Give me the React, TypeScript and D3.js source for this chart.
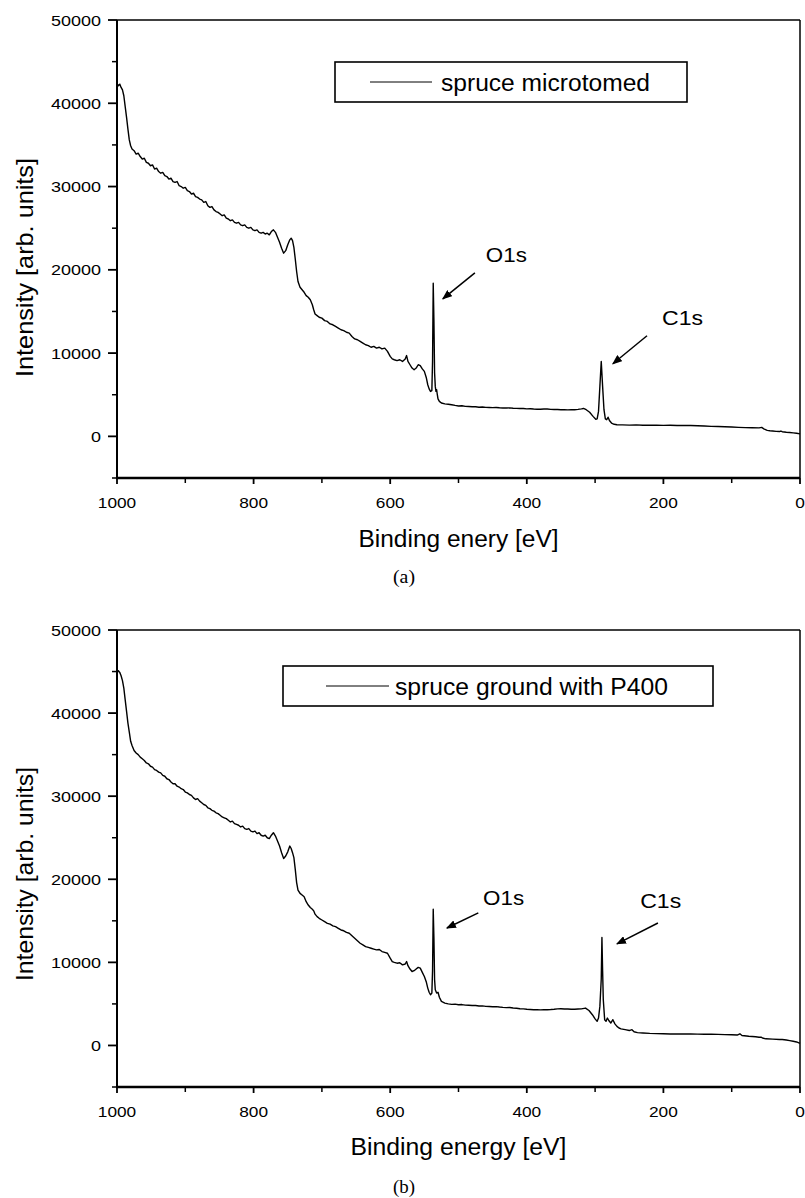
import * as d3 from 'd3'

// XPS survey spectra: [binding energy eV, intensity]
const spectrumA: [number, number][] = [
    [1000, 42400], [998, 42100], [996, 42300], [994, 41900], [992, 41600], [990, 40900], [988, 39600], [986, 38300],
    [984, 36900], [982, 35600], [980, 34900], [978, 34500], [975, 34300], [972, 33900], [969, 34000], [966, 33600],
    [963, 33300], [960, 33400], [957, 32900], [954, 32800], [951, 32500], [948, 32600], [945, 32100], [942, 32200],
    [939, 31800], [936, 31600], [933, 31700], [930, 31300], [927, 31200], [924, 30900], [921, 31000], [918, 30600],
    [915, 30500], [912, 30600], [909, 30100], [906, 30000], [903, 29800], [900, 29900], [897, 29500], [894, 29400],
    [891, 29100], [888, 29200], [885, 28800], [882, 28700], [879, 28500], [876, 28400], [873, 28100], [870, 28200],
    [867, 27700], [864, 27500], [861, 27600], [858, 27200], [855, 27000], [852, 26900], [849, 26700], [846, 26500],
    [843, 26600], [840, 26200], [837, 26100], [834, 25900], [831, 26000], [828, 25700], [825, 25600], [822, 25700],
    [819, 25400], [816, 25300], [813, 25400], [810, 25100], [807, 25000], [804, 25100], [801, 24800], [798, 24700],
    [795, 24800], [792, 24500], [789, 24400], [786, 24500], [783, 24300], [780, 24400], [777, 24200], [774, 24600],
    [771, 24800], [768, 24500], [765, 23900], [762, 23300], [759, 22600], [756, 22000], [753, 22300], [750, 23000],
    [747, 23600], [745, 23800], [743, 23500], [741, 22700], [739, 21300], [737, 19800], [735, 18600], [732, 17900],
    [729, 17600], [726, 17300], [723, 16900], [720, 16700], [717, 16400], [714, 15800], [712, 15200], [710, 14700],
    [707, 14500], [704, 14300], [700, 14200], [696, 13900], [692, 13800], [688, 13500], [684, 13400], [680, 13200],
    [676, 13000], [672, 12800], [668, 12700], [664, 12500], [660, 12400], [656, 12000], [652, 11700], [648, 11600],
    [644, 11400], [640, 11200], [636, 11000], [632, 10900], [628, 10700], [624, 10800], [620, 10600], [616, 10700],
    [612, 10500], [608, 10600], [604, 10200], [600, 9600], [597, 9300], [594, 9200], [590, 9100], [586, 9200],
    [582, 9000], [578, 9300], [576, 9700], [574, 9000], [571, 8600], [568, 8200], [565, 8000], [562, 8200],
    [559, 8600], [556, 8500], [553, 8100], [550, 7800], [547, 7000], [545, 6200], [543, 5700], [541, 5400],
    [539, 5500], [538, 9000], [537, 18400], [536, 14000], [535, 7600], [534, 6000], [533, 5400], [532, 5600],
    [531, 5000], [530, 4500], [528, 4200], [525, 4000], [520, 3900], [515, 3850], [510, 3800], [505, 3720],
    [500, 3650], [495, 3680], [490, 3600], [485, 3580], [480, 3550], [475, 3560], [470, 3500], [465, 3520],
    [460, 3480], [455, 3470], [450, 3450], [445, 3460], [440, 3430], [435, 3410], [430, 3400], [425, 3420],
    [420, 3380], [415, 3360], [410, 3350], [405, 3340], [400, 3300], [395, 3320], [390, 3280], [385, 3260],
    [380, 3250], [375, 3290], [370, 3280], [365, 3240], [360, 3220], [355, 3230], [350, 3200], [345, 3210],
    [340, 3180], [335, 3190], [330, 3200], [325, 3240], [320, 3300], [317, 3350], [313, 3200], [308, 2900],
    [303, 2400], [299, 2050], [297, 2100], [295, 3000], [293, 6000], [291, 9000], [289, 6000], [287, 3200],
    [285, 2100], [283, 2000], [281, 2300], [279, 1900], [276, 1600], [272, 1450], [268, 1400], [260, 1380],
    [250, 1350], [240, 1380], [230, 1340], [220, 1350], [210, 1330], [200, 1320], [190, 1330], [180, 1300],
    [170, 1320], [160, 1300], [150, 1280], [140, 1250], [130, 1200], [120, 1180], [110, 1150], [100, 1120],
    [90, 1080], [80, 1050], [70, 1030], [60, 1020], [56, 1080], [53, 900], [48, 720], [44, 680],
    [40, 650], [35, 600], [30, 580], [28, 640], [26, 560], [20, 500], [15, 460], [10, 420],
    [5, 380], [0, 300],
]

const spectrumB: [number, number][] = [
    [1000, 44800], [998, 45100], [996, 44900], [994, 44500], [992, 43900], [990, 43000], [988, 41600], [986, 40200],
    [984, 38800], [982, 37700], [980, 36600], [978, 36100], [975, 35500], [972, 35200], [969, 35000], [966, 34700],
    [963, 34500], [960, 34300], [957, 34000], [954, 33900], [951, 33600], [948, 33500], [945, 33200], [942, 33100],
    [939, 32900], [936, 32800], [933, 32500], [930, 32400], [927, 32100], [924, 32000], [921, 31700], [918, 31500],
    [915, 31500], [912, 31200], [909, 31100], [906, 30900], [903, 30800], [900, 30500], [897, 30400], [894, 30200],
    [891, 30100], [888, 29800], [885, 29600], [882, 29700], [879, 29400], [876, 29200], [873, 29000], [870, 28900],
    [867, 28600], [864, 28500], [861, 28300], [858, 28200], [855, 28000], [852, 27900], [849, 27700], [846, 27500],
    [843, 27400], [840, 27300], [837, 27100], [834, 26900], [831, 27000], [828, 26700], [825, 26600], [822, 26500],
    [819, 26300], [816, 26400], [813, 26100], [810, 26000], [807, 26100], [804, 25800], [801, 25700], [798, 25800],
    [795, 25500], [792, 25600], [789, 25300], [786, 25200], [783, 25300], [780, 25000], [777, 24900], [774, 25300],
    [771, 25600], [768, 25200], [765, 24600], [762, 24000], [759, 23200], [756, 22500], [753, 22800], [750, 23300],
    [747, 24000], [745, 23700], [743, 23200], [741, 22600], [739, 21200], [737, 19600], [735, 18700], [732, 18300],
    [729, 18100], [726, 17900], [723, 17300], [720, 16900], [717, 16600], [714, 16400], [712, 16200], [710, 15800],
    [707, 15500], [704, 15300], [700, 15100], [696, 14900], [692, 14700], [688, 14600], [684, 14400], [680, 14300],
    [676, 14100], [672, 13900], [668, 13800], [664, 13600], [660, 13500], [656, 13200], [652, 12900], [648, 12600],
    [644, 12300], [640, 12100], [636, 11900], [632, 11800], [628, 11700], [624, 11600], [620, 11500], [616, 11550],
    [612, 11300], [608, 11200], [604, 11100], [600, 10500], [597, 10100], [594, 10000], [590, 9900], [586, 9950],
    [582, 9700], [578, 9800], [576, 10100], [574, 9600], [571, 9200], [568, 8900], [565, 9000], [562, 9200],
    [559, 9400], [556, 9300], [553, 8800], [550, 8300], [547, 7600], [545, 6900], [543, 6400], [541, 6100],
    [539, 6300], [538, 9000], [537, 16400], [536, 13000], [535, 7900], [534, 6700], [532, 6300], [530, 6400],
    [528, 5800], [525, 5300], [520, 5100], [515, 5000], [510, 4950], [505, 4980], [500, 4900], [495, 4920],
    [490, 4850], [485, 4830], [480, 4800], [475, 4810], [470, 4750], [465, 4760], [460, 4700], [455, 4690],
    [450, 4650], [445, 4670], [440, 4620], [435, 4580], [430, 4550], [425, 4560], [420, 4500], [415, 4470],
    [410, 4420], [405, 4400], [400, 4350], [395, 4330], [390, 4300], [385, 4290], [380, 4280], [375, 4300],
    [370, 4300], [365, 4320], [360, 4350], [355, 4400], [350, 4420], [345, 4390], [340, 4380], [335, 4360],
    [330, 4350], [325, 4380], [320, 4400], [314, 4500], [309, 4200], [304, 3700], [300, 3200], [297, 2900],
    [295, 3300], [293, 4700], [291, 8000], [290, 13000], [289, 9000], [288, 5500], [286, 3100], [284, 2900],
    [282, 3300], [280, 3000], [277, 2700], [274, 3100], [271, 2600], [268, 2300], [265, 2100], [262, 2000],
    [256, 1900], [250, 1800], [248, 1850], [246, 1900], [243, 1650], [238, 1550], [230, 1500], [220, 1450],
    [210, 1420], [200, 1400], [190, 1380], [180, 1380], [170, 1370], [160, 1380], [150, 1360], [140, 1350],
    [130, 1360], [120, 1330], [110, 1300], [100, 1280], [92, 1250], [88, 1400], [85, 1200], [75, 1100],
    [65, 1040], [60, 980], [57, 1000], [55, 900], [50, 800], [40, 760], [30, 720], [26, 720],
    [20, 650], [15, 580], [10, 500], [5, 420], [0, 250],
]

const xMajor = [1000, 800, 600, 400, 200, 0]
const xMinor = [900, 700, 500, 300, 100]
const yMajor = [0, 10000, 20000, 30000, 40000, 50000]
const yMinor = [-5000, 5000, 15000, 25000, 35000, 45000]

// peak labels, in data units: label position, arrow tail, arrow head
const peaksA = [
    { label: 'O1s', tx: 460, ty: 20960, x1: 476, y1: 19640, x2: 523, y2: 16520 },
    { label: 'C1s', tx: 202, ty: 13400, x1: 224, y1: 12080, x2: 274, y2: 8720 },
]
const peaksB = [
    { label: 'O1s', tx: 464, ty: 16910, x1: 471, y1: 15950, x2: 517, y2: 14140 },
    { label: 'C1s', tx: 234, ty: 16550, x1: 208, y1: 14740, x2: 268, y2: 12220 },
]

const SANS = "'Liberation Sans', Arial, Helvetica, sans-serif"
const SERIF = "'Liberation Serif', 'Times New Roman', serif"
const LEFT = 117
const RIGHT = 800

function Panel(props: any) {
    const { id, data, top, bottom, legend, xTitle, xTitleY, xTitleW, caption, captionY, yTitleC, yTitleW, peaks } = props
    const x = d3.scaleLinear().domain([1000, 0]).range([LEFT, RIGHT])
    const y = d3.scaleLinear().domain([-5000, 50000]).range([bottom, top])
    const line = d3.line<[number, number]>()
        .x(d => x(d[0]))
        .y(d => y(d[1]))
    return (
        <g>
            <defs>
                <marker id={'arr' + id} viewBox="0 0 10 8" refX="9" refY="4" markerWidth="10" markerHeight="8"
                    markerUnits="userSpaceOnUse" orient="auto">
                    <path d="M0,0 L10,4 L0,8 Z" fill="#000" />
                </marker>
            </defs>
            {/* frame */}
            <line x1={LEFT} x2={RIGHT} y1={top} y2={top} stroke="#000" strokeWidth={1.5} />
            <line x1={RIGHT} x2={RIGHT} y1={top} y2={bottom} stroke="#000" strokeWidth={1.5} />
            <path d={line(data) || ''} fill="none" stroke="#000" strokeWidth={1.4} strokeLinejoin="round" />
            <line x1={LEFT} x2={LEFT} y1={top} y2={bottom} stroke="#000" strokeWidth={2} />
            <line x1={LEFT - 1} x2={RIGHT} y1={bottom} y2={bottom} stroke="#000" strokeWidth={2.6} />
            {yMajor.map(v => (
                <g key={'ym' + v}>
                    <line x1={LEFT - 9} x2={LEFT} y1={y(v)} y2={y(v)} stroke="#000" strokeWidth={1.8} />
                    <text x={LEFT - 16} y={y(v) + 5.5} textAnchor="end" fontSize={15.5} fontFamily={SANS}
                        textLength={String(v).length * 10} lengthAdjust="spacingAndGlyphs">{v}</text>
                </g>
            ))}
            {yMinor.map(v => (
                <line key={'yn' + v} x1={LEFT - 5} x2={LEFT} y1={y(v)} y2={y(v)} stroke="#000" strokeWidth={1.5} />
            ))}
            {xMajor.map(v => (
                <g key={'xm' + v}>
                    <line x1={x(v)} x2={x(v)} y1={bottom} y2={bottom + 6} stroke="#000" strokeWidth={1.8} />
                    <text x={x(v)} y={bottom + 30} textAnchor="middle" fontSize={15.5} fontFamily={SANS}
                        textLength={String(v).length * 9.6} lengthAdjust="spacingAndGlyphs">{v}</text>
                </g>
            ))}
            {xMinor.map(v => (
                <line key={'xn' + v} x1={x(v)} x2={x(v)} y1={bottom} y2={bottom + 5} stroke="#000" strokeWidth={1.5} />
            ))}
            <text x={(LEFT + RIGHT) / 2} y={xTitleY} textAnchor="middle" fontSize={23} fontFamily={SANS}
                textLength={xTitleW} lengthAdjust="spacingAndGlyphs">{xTitle}</text>
            <text transform={`translate(33,${yTitleC}) rotate(-90)`} textAnchor="middle" fontSize={24} fontFamily={SANS}
                textLength={yTitleW} lengthAdjust="spacingAndGlyphs">Intensity [arb. units]</text>
            <text x={404} y={captionY} textAnchor="middle" fontSize={18} fontFamily={SERIF}
                textLength={22} lengthAdjust="spacingAndGlyphs">{caption}</text>
            {/* legend */}
            <rect x={legend.x} y={legend.y} width={legend.w} height={legend.h} fill="#fff" stroke="#000" strokeWidth={1.6} />
            <line x1={legend.l1} x2={legend.l2} y1={legend.ly} y2={legend.ly} stroke="#000" strokeWidth={1} />
            <text x={legend.tx} y={legend.ty} fontSize={23} fontFamily={SANS}
                textLength={legend.tw} lengthAdjust="spacingAndGlyphs">{legend.text}</text>
            {peaks.map((p: any) => (
                <g key={p.label}>
                    <text x={x(p.tx)} y={y(p.ty)} fontSize={21} fontFamily={SANS}
                        textLength={41} lengthAdjust="spacingAndGlyphs">{p.label}</text>
                    <line x1={x(p.x1)} y1={y(p.y1)} x2={x(p.x2)} y2={y(p.y2)} stroke="#000" strokeWidth={1.5}
                        markerEnd={`url(#arr${id})`} />
                </g>
            ))}
        </g>
    )
}

export default function App() {
    return (
        <svg width={805} height={1198} style={{ position: 'absolute', left: 0, top: 0, background: '#fff' }}>
            <Panel id="a" data={spectrumA} top={20} bottom={478} peaks={peaksA}
                legend={{ x: 335, y: 62, w: 352, h: 40, l1: 370, l2: 432, ly: 82, tx: 441, ty: 90.5, tw: 209, text: 'spruce microtomed' }}
                xTitle="Binding enery [eV]" xTitleY={547} xTitleW={200}
                caption="(a)" captionY={583} yTitleC={267.5} yTitleW={219} />
            <Panel id="b" data={spectrumB} top={630} bottom={1087} peaks={peaksB}
                legend={{ x: 283, y: 666, w: 430, h: 40, l1: 326, l2: 389, ly: 686, tx: 395, ty: 695, tw: 273, text: 'spruce ground with P400' }}
                xTitle="Binding energy [eV]" xTitleY={1155} xTitleW={216}
                caption="(b)" captionY={1193} yTitleC={874} yTitleW={214} />
        </svg>
    )
}
